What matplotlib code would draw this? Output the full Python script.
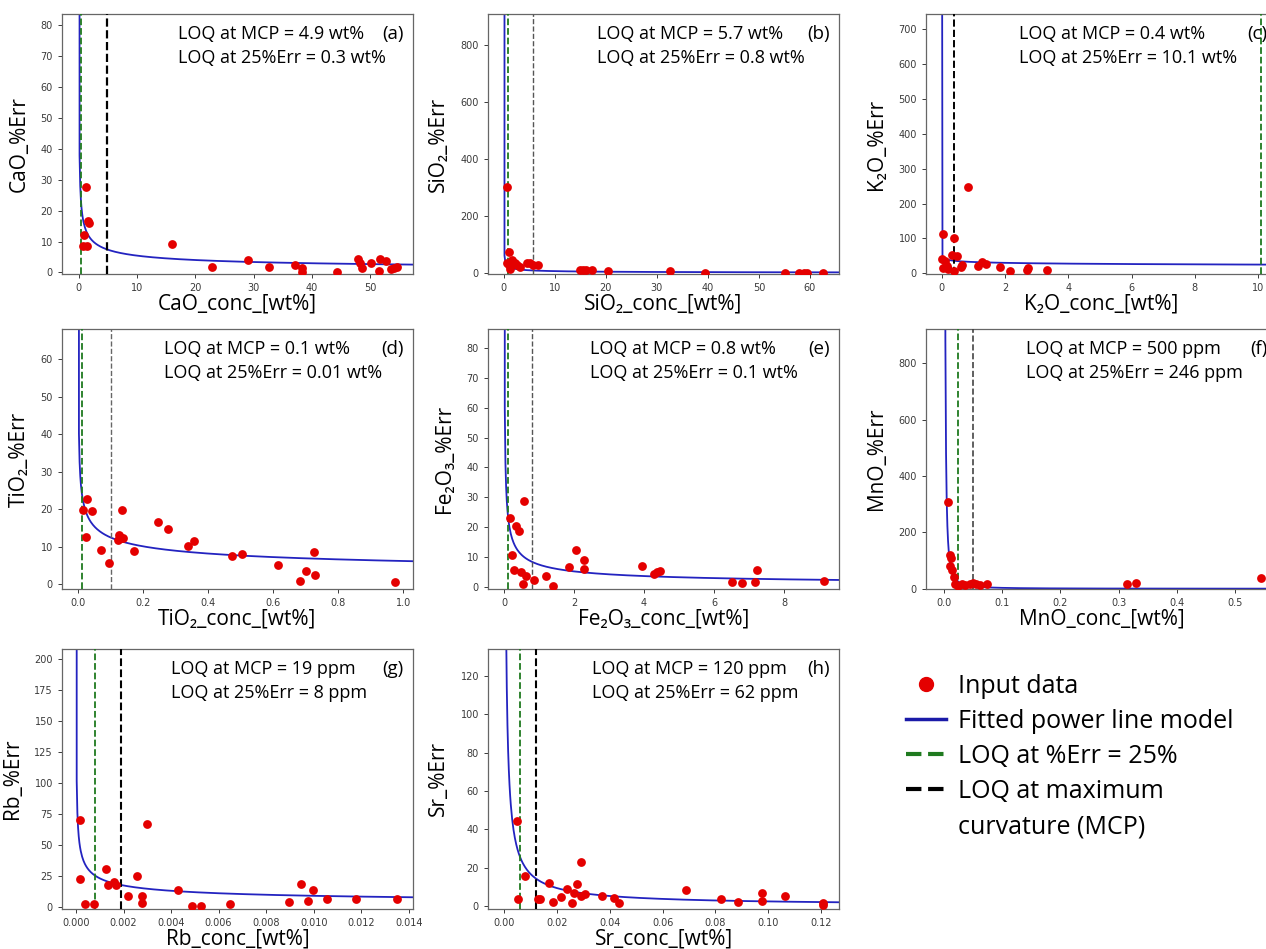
import numpy as np
import matplotlib
matplotlib.use('Agg')
import matplotlib.pyplot as plt
from matplotlib.ticker import MultipleLocator
from matplotlib.lines import Line2D

# Fuente para rótulos y anotaciones (las marcas de los ejes quedan en DejaVu)
TEXT_FONT = ['Open Sans', 'Noto Sans', 'DejaVu Sans']

# Nombres de los analitos y etiquetas de panel
analitos = ['CaO', 'SiO₂', 'K₂O', 'TiO₂', 'Fe₂O₃', 'MnO', 'Rb', 'Sr']
etiquetas = ['(a)', '(b)', '(c)', '(d)', '(e)', '(f)', '(g)', '(h)']

# LOQ en wt% y unidad con que se informa
loq_mcp = [4.9, 5.7, 0.4, 0.1, 0.8, 0.05, 0.0019, 0.012]
loq_25 = [0.3, 0.8, 10.1, 0.01, 0.1, 0.0246, 0.0008, 0.0062]
unidad = ['wt%', 'wt%', 'wt%', 'wt%', 'wt%', 'ppm', 'ppm', 'ppm']

# Coeficientes del modelo potencial %Err = a * conc^b
fit_a = [14.8, 22.4, 32.4, 6.25, 7.38, 0.0965, 1.25, 0.357]
fit_b = [-0.435, -0.5, -0.112, -0.301, -0.53, -1.5, -0.42, -0.836]

# Datos de entrada: concentración [wt%] y error relativo [%]
cao_conc = [1.2, 0.86, 0.74, 1.43, 1.6, 1.78, 16.0, 22.8, 29.1, 32.7, 37.2, 38.3,
            38.3, 44.4, 47.9, 48.3, 48.7, 50.2, 51.7, 51.6, 52.7, 53.7, 54.2, 54.7]
cao_err = [27.7, 12.0, 8.4, 8.6, 16.5, 16.0, 9.3, 1.7, 3.9, 1.7, 2.5, 1.4,
           0.3, 0.0, 4.5, 3.0, 1.6, 3.2, 4.3, 0.6, 3.8, 1.1, 1.4, 1.7]

sio2_conc = [0.6, 0.65, 1.0, 1.1, 1.3, 1.6, 2.1, 2.6, 3.1, 4.5, 5.2, 5.8, 6.7,
             14.9, 15.6, 16.2, 17.2, 20.5, 32.6, 39.5, 55.1, 57.9, 58.9, 59.4, 62.6]
sio2_err = [301, 35, 74, 29, 14, 47, 35, 29, 23, 35, 35, 29, 27,
            12, 12, 12, 12, 6, 9, 2, 2, 2, 2, 2, 2]

k2o_conc = [0.05, 0.39, 0.84, 0.31, 0.48, 0.01, 0.1, 0.15, 0.05, 0.2, 0.4,
            0.6, 0.64, 1.13, 1.27, 1.41, 1.83, 2.15, 2.73, 2.68, 3.32]
k2o_err = [112, 100, 248, 52, 49, 40, 35, 21, 16, 11, 7,
           18, 23, 21, 33, 26, 18, 7, 14, 9, 10]

tio2_conc = [0.015, 0.028, 0.025, 0.043, 0.069, 0.096, 0.135, 0.125, 0.133, 0.123,
             0.137, 0.173, 0.245, 0.276, 0.337, 0.356, 0.472, 0.503, 0.614, 0.681,
             0.702, 0.725, 0.727, 0.976]
tio2_err = [19.8, 22.7, 12.6, 19.5, 9.3, 5.8, 19.8, 13.1, 12.5, 11.8,
            12.5, 8.9, 16.7, 14.7, 10.2, 11.6, 7.5, 8.0, 5.3, 0.8,
            3.6, 8.6, 2.6, 0.6]

fe2o3_conc = [0.16, 0.24, 0.29, 0.35, 0.42, 0.47, 0.56, 0.54, 0.64, 0.85, 1.19,
              1.41, 1.86, 2.06, 2.29, 2.29, 3.94, 4.27, 4.37, 4.45, 6.52, 6.79,
              7.16, 7.23, 9.13]
fe2o3_err = [22.9, 10.6, 5.6, 20.4, 18.8, 4.8, 28.7, 0.8, 3.6, 2.2, 3.4,
             0.3, 6.5, 12.3, 8.9, 5.8, 7.0, 4.1, 5.0, 5.4, 1.7, 1.1,
             1.7, 5.6, 1.9]

mno_conc = [0.0069, 0.0098, 0.0127, 0.0098, 0.0138, 0.0167, 0.0184, 0.0241, 0.030,
            0.0357, 0.0443, 0.050, 0.0557, 0.0615, 0.073, 0.314, 0.330, 0.545]
mno_err = [306, 118, 110, 80, 68, 42, 15, 9, 15,
           12, 15, 21, 15, 12, 18, 15, 19, 39]

rb_conc = [0.00016, 0.00016, 0.00038, 0.00076, 0.00125, 0.00135, 0.00158, 0.00167,
           0.00217, 0.00256, 0.00277, 0.00277, 0.00298, 0.00428, 0.00487, 0.00526,
           0.00646, 0.00896, 0.00948, 0.00976, 0.00997, 0.01058, 0.0118, 0.01349]
rb_err = [69.5, 22, 2, 2, 30, 17, 20, 17.5,
          8.6, 25, 8.6, 3.2, 67, 13.5, 0.5, 0.5,
          2, 4, 18, 4.8, 13.5, 6, 6, 6]

sr_conc = [0.0048, 0.0054, 0.008, 0.0137, 0.013, 0.0171, 0.0185, 0.0215, 0.0238,
           0.0257, 0.0266, 0.0276, 0.0291, 0.0291, 0.0308, 0.0371, 0.0415, 0.0434,
           0.0687, 0.0823, 0.0887, 0.0976, 0.0976, 0.1065, 0.1209, 0.1209]
sr_err = [44.2, 3.5, 15.6, 3.8, 3.5, 11.8, 2.1, 4.9, 9.0,
          1.7, 6.6, 11.3, 22.9, 5.5, 6.1, 5.2, 4.3, 1.7,
          8.2, 3.8, 2.1, 6.9, 2.6, 5.2, 1.7, 0.5]

datos = [(cao_conc, cao_err), (sio2_conc, sio2_err), (k2o_conc, k2o_err),
         (tio2_conc, tio2_err), (fe2o3_conc, fe2o3_err), (mno_conc, mno_err),
         (rb_conc, rb_err), (sr_conc, sr_err)]

# Rangos y pasos de los ejes: (xlim, ylim, paso x, paso y)
ejes = [((-2.9, 57.4), (-0.5, 83.6), 10, 10),
        ((-3.1, 65.7), (-3, 910), 10, 200),
        ((-0.5, 10.6), (-2, 744), 2, 100),
        ((-0.05, 1.03), (-1.2, 68), 0.2, 10),
        ((-0.46, 9.57), (-0.8, 86.5), 2, 10),
        ((-0.031, 0.572), (-1, 921), 0.1, 200),
        ((-0.00059, 0.01418), (-2, 208), 0.002, 25),
        ((-0.0061, 0.1268), (-1.5, 134), 0.02, 20)]

# Posición del texto de LOQ dentro de cada panel (fracción del eje)
texto_x = [0.33, 0.31, 0.265, 0.29, 0.29, 0.285, 0.31, 0.297]

# Trazo de la línea MCP: (color, grosor)
trazo_mcp = [('black', 1.6), ('#555555', 1.0), ('black', 1.4), ('#666666', 1.0),
             ('#555555', 1.0), ('#444444', 1.2), ('black', 1.5), ('black', 1.5)]

W, H = 1266, 949
col_left = [62, 488, 926]
row_top = [14, 329, 649]
ax_w, ax_h = 351, 260


def fmt_loq(v, u):
    if u == 'ppm':
        return f'{v * 1e4:.0f} ppm'
    return f'{v:g} wt%'


fig = plt.figure(figsize=(W / 100, H / 100), dpi=100)

for i in range(8):
    r, c = divmod(i, 3)
    ax = fig.add_axes([col_left[c] / W, 1 - (row_top[r] + ax_h) / H, ax_w / W, ax_h / H])
    conc, err = datos[i]
    (x0, x1), (y0, y1), dx, dy = ejes[i]

    # curva del modelo potencial
    xs = np.linspace(1e-15, x1, 500)
    ax.plot(xs, fit_a[i] * xs ** fit_b[i], color='#2323c0', lw=1.3, zorder=2)
    ax.axvline(loq_25[i], color='#1f7a1f', ls='--', lw=1.3, zorder=3)
    col, lw = trazo_mcp[i]
    ax.axvline(loq_mcp[i], color=col, ls='--', lw=lw, zorder=3)
    ax.scatter(conc, err, s=40, color='#e40000', zorder=4, linewidths=0)

    ax.set_xlim(x0, x1)
    ax.set_ylim(y0, y1)
    ax.xaxis.set_major_locator(MultipleLocator(dx))
    ax.yaxis.set_major_locator(MultipleLocator(dy))
    ax.tick_params(labelsize=7, colors='#3a3a3a', length=3, width=0.7)
    for sp in ax.spines.values():
        sp.set_color('#666666')
        sp.set_linewidth(0.9)

    ax.set_xlabel(f'{analitos[i]}_conc_[wt%]', family=TEXT_FONT, fontsize=15, labelpad=0)
    ax.set_ylabel(f'{analitos[i]}_%Err', family=TEXT_FONT, fontsize=15, labelpad=8)

    ax.text(texto_x[i], 0.958,
            f'LOQ at MCP = {fmt_loq(loq_mcp[i], unidad[i])}\n'
            f'LOQ at 25%Err = {fmt_loq(loq_25[i], unidad[i])}',
            transform=ax.transAxes, ha='left', va='top', family=TEXT_FONT,
            fontsize=13, linespacing=1.4)
    ax.text(0.974, 0.958, etiquetas[i], transform=ax.transAxes, ha='right',
            va='top', family=TEXT_FONT, fontsize=13.5)

# Leyenda común en el hueco de la última fila
handles = [Line2D([], [], ls='none', marker='o', markersize=10, color='#e40000'),
           Line2D([], [], color='#1a1aa8', lw=2.5),
           Line2D([], [], color='#1f7a1f', ls='--', lw=3),
           Line2D([], [], color='black', ls='--', lw=3),
           Line2D([], [], ls='none')]
labels = ['Input data', 'Fitted power line model', 'LOQ at %Err = 25%',
          'LOQ at maximum', 'curvature (MCP)']
fig.legend(handles, labels, loc='upper left', bbox_to_anchor=(906 / W, 1 - 674 / H),
           frameon=False, prop={'family': TEXT_FONT, 'size': 18},
           handlelength=1.6, handletextpad=0.5, labelspacing=0.4,
           borderpad=0, borderaxespad=0)

fig.savefig('out.png', dpi=100)
